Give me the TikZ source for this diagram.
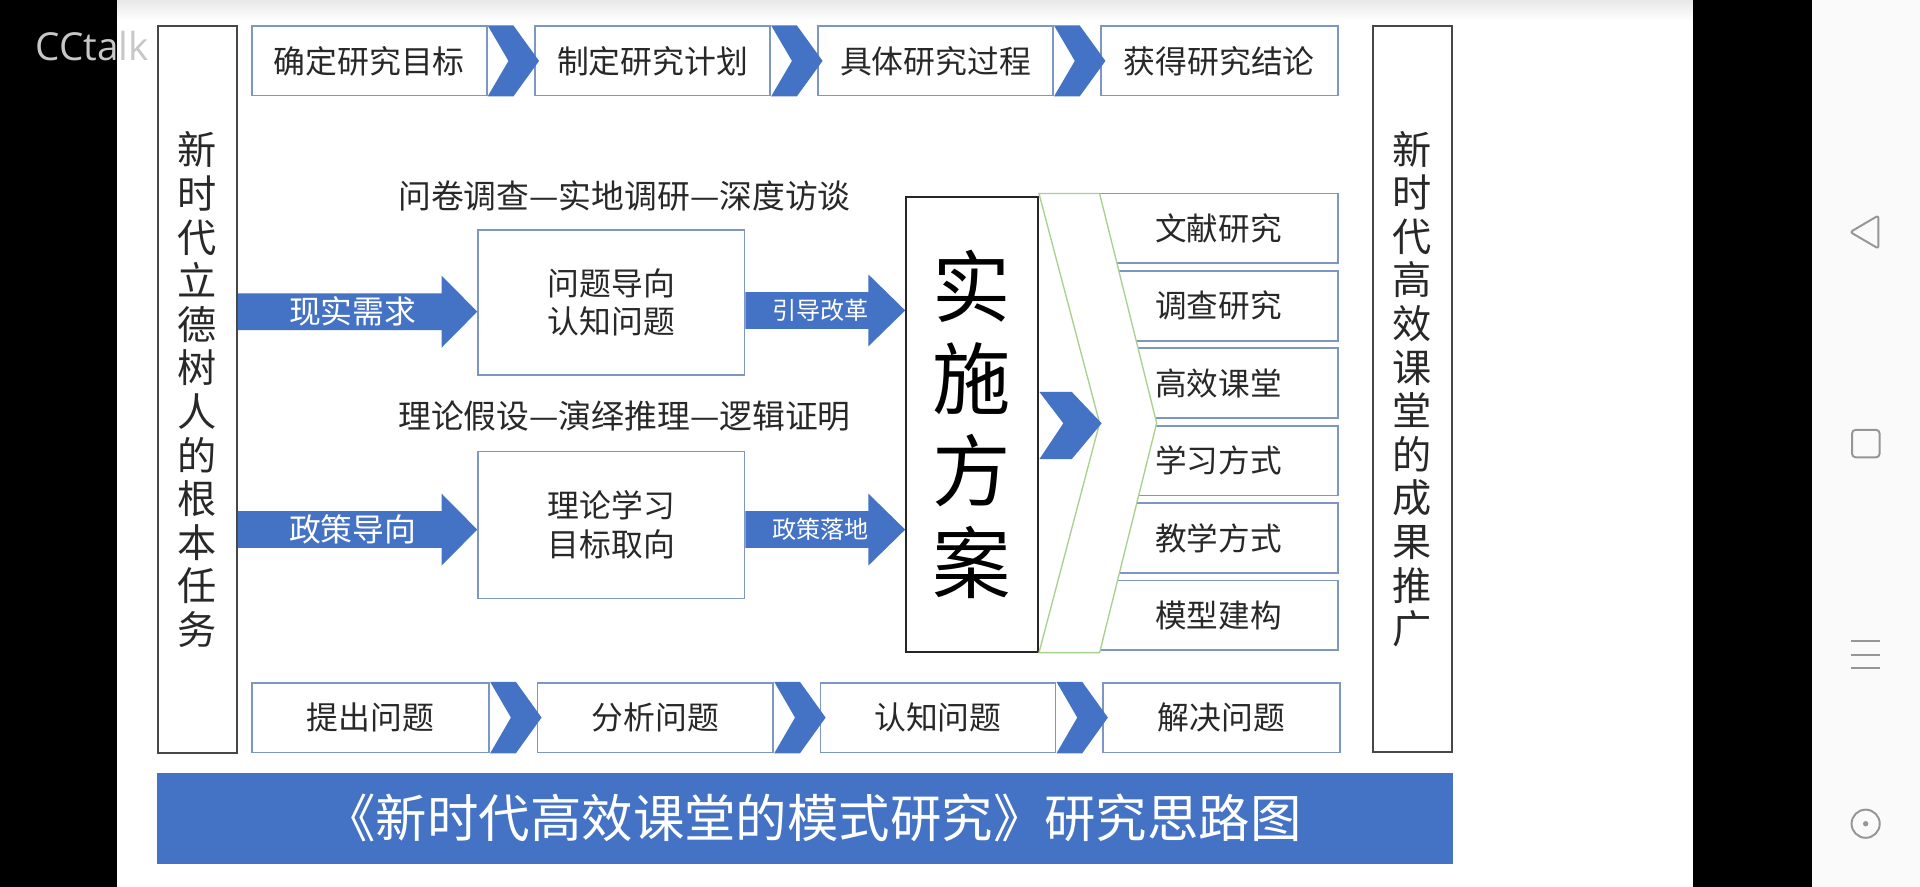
\documentclass[tikz,border=0pt]{standalone}
\usepackage{fontspec}
\setmainfont{Noto Sans CJK SC}
\newfontfamily\latinfont{Open Sans}
\usetikzlibrary{calc}
\definecolor{ofblue}{RGB}{68,114,196}
\definecolor{boxline}{RGB}{125,150,195}
\definecolor{txt}{RGB}{40,40,40}
\definecolor{chevgreen}{RGB}{169,209,142}
\definecolor{navicon}{RGB}{150,150,150}
\definecolor{navbg}{RGB}{250,250,250}
\newcommand\fs[2]{\fontsize{#1}{#2}\selectfont}
% chevron placed right of a node
\newcommand\chevafter[1]{\fill[ofblue] (#1.north east) -- ($(#1.north east)+(21,0)$) -- ($(#1.east)+(42,0)$) -- ($(#1.south east)+(21,0)$) -- (#1.south east) -- ($(#1.east)+(17,0)$) -- cycle;}
% block arrow from #1 to tip #2, head length #3
\newcommand\barrow[3]{\fill[ofblue] ($(#1)+(0,-15)$) -- ($(#2)+(-#3,-15)$) -- ($(#2)+(-#3,-29.3)$) -- (#2) -- ($(#2)+(-#3,29.3)$) -- ($(#2)+(-#3,15)$) -- ($(#1)+(0,15)$) -- cycle;}
\begin{document}
\begin{tikzpicture}[x=1pt,y=-1pt,
  bbox/.style={draw=boxline, line width=1.5pt, fill=white, inner sep=0pt, text=txt},
  tallbox/.style={draw=black!72, line width=1.6pt, fill=white, inner sep=0pt, text=txt, align=center, font=\fs{32}{35.6}},
  rowtext/.style={font=\fs{26}{30}},
  lbl/.style={inner sep=0pt, text=txt, font=\fs{26.8}{30}},
  arrtext/.style={inner sep=0pt, text=white},
  navline/.style={draw=navicon, line width=1.6pt, line join=round}
]
\useasboundingbox (0,0) rectangle (1568,724);
% screen background
\fill[white] (0,0) rectangle (1568,724);
\shade[top color=black!9, bottom color=white] (95.5,0) rectangle (1383,17);
\fill[black] (0,0) rectangle (95.5,724);
\fill[black] (1383,0) rectangle (1480,724);
\fill[navbg] (1480,0) rectangle (1568,724);
% navigation icons
\draw[navline, rounded corners=2pt] (1511,189.5) -- (1534,176) -- (1534,203) -- cycle;
\draw[navline, rounded corners=3pt] (1512.5,351) rectangle (1535,373.5);
\draw[navicon, line width=1.4pt] (1512,523.6) -- (1535,523.6) (1512,535) -- (1535,535) (1512,545.5) -- (1535,545.5);
\draw[navline] (1523.6,672.7) circle[radius=11.5pt];
\fill[navicon] (1523.6,672.7) circle[radius=2.2pt];

% tall side boxes
\node[tallbox, minimum width=64.5pt, minimum height=593.5pt] (lbox) at (161.25,318.25) {新\\时\\代\\立\\德\\树\\人\\的\\根\\本\\任\\务};
\node[tallbox, minimum width=65pt, minimum height=592.5pt] (rbox) at (1153.5,317.75) {新\\时\\代\\高\\效\\课\\堂\\的\\成\\果\\推\\广};
\node[anchor=base west, inner sep=0pt, font=\latinfont\fs{31.5}{31.5}, text=black!22] (cc) at (29,49) {CCtalk};

% top row
\node[bbox, rowtext, minimum width=192pt, minimum height=56.5pt] (t1) at (301.5,49.75) {确定研究目标};
\node[bbox, rowtext, minimum width=192pt, minimum height=56.5pt] (t2) at (533,49.75) {制定研究计划};
\node[bbox, rowtext, minimum width=192pt, minimum height=56.5pt] (t3) at (764,49.75) {具体研究过程};
\node[bbox, rowtext, minimum width=193.5pt, minimum height=56.5pt] (t4) at (995.75,49.75) {获得研究结论};
\chevafter{t1}\chevafter{t2}\chevafter{t3}

% bottom row
\node[bbox, rowtext, minimum width=194pt, minimum height=57pt] (b1) at (302.5,586) {提出问题};
\node[bbox, rowtext, minimum width=192.5pt, minimum height=57pt] (b2) at (535.25,586) {分析问题};
\node[bbox, rowtext, minimum width=192pt, minimum height=57pt] (b3) at (766,586) {认知问题};
\node[bbox, rowtext, minimum width=193pt, minimum height=57pt] (b4) at (997.5,586) {解决问题};
\chevafter{b1}\chevafter{b2}\chevafter{b3}

% middle labels and boxes
\node[lbl] (l1) at (510,160) {问卷调查—实地调研—深度访谈};
\node[lbl] (l2) at (510,340) {理论假设—演绎推理—逻辑证明};
\node[bbox, align=center, font=\fs{26}{31.5}, minimum width=217.5pt, minimum height=118pt] (q1) at (499.25,246.9) {问题导向\\认知问题};
\node[bbox, align=center, font=\fs{26}{31.5}, minimum width=217.5pt, minimum height=120pt] (q2) at (499.25,428.7) {理论学习\\目标取向};

% implementation plan
\node[draw=black!85, line width=1.5pt, fill=white, inner sep=0pt, minimum width=107.5pt, minimum height=372pt, align=center, font=\fs{64}{75}, text=black] (plan) at (793.75,346.55) {实\\施\\方\\案};

% block arrows
\coordinate (a1t) at (q1.west |- 0,254.5);
\coordinate (a1s) at (lbox.east |- a1t);
\coordinate (a2t) at (plan.west |- 0,253.5);
\coordinate (a2s) at (q1.east |- a2t);
\coordinate (a3t) at (q2.west |- 0,432.5);
\coordinate (a3s) at (lbox.east |- a3t);
\coordinate (a4t) at (plan.west |- 0,432.5);
\coordinate (a4s) at (q2.east |- a4t);
\barrow{a1s}{a1t}{29}
\barrow{a2s}{a2t}{30}
\barrow{a3s}{a3t}{29}
\barrow{a4s}{a4t}{30}
\node[arrtext, font=\fs{26}{30}] (x1) at ($(a1s)!0.48!(a1t)$) {现实需求};
\node[arrtext, font=\fs{19.7}{24}] (x2) at ($(a2s)!0.47!(a2t)$) {引导改革};
\node[arrtext, font=\fs{26}{30}] (x3) at ($(a3s)!0.48!(a3t)$) {政策导向};
\node[arrtext, font=\fs{19.7}{24}] (x4) at ($(a4s)!0.47!(a4t)$) {政策落地};

% right list boxes
\foreach \t [count=\i] in {文献研究,调查研究,高效课堂,学习方式,教学方式,模型建构}{
  \node[bbox, font=\fs{25.8}{30}, minimum width=194.9pt, minimum height=57pt] (r\i) at (995.05,{186.5+(\i-1)*63.2}) {\t};
}
% big chevron over the list boxes
\filldraw[fill=white, draw=chevgreen, line width=1.1pt, line join=miter] (848.5,158) -- (898,158) -- (944.6,345.5) -- (898,533) -- (848.5,533) -- (898,345.5) -- cycle;
\fill[ofblue] (848.8,320) -- (875.2,320) -- (899.7,345.7) -- (875.2,375) -- (848.8,375) -- (868.4,345.7) -- cycle;

% title bar
\node[fill=ofblue, inner sep=0pt, minimum width=1058.5pt, minimum height=74.6pt] (title) at (657.75,668.3) {};
\node[inner sep=0pt, text=white, font=\fs{42}{46}] (titletext) at (664,668.3) {《新时代高效课堂的模式研究》研究思路图};
\end{tikzpicture}
\end{document}
